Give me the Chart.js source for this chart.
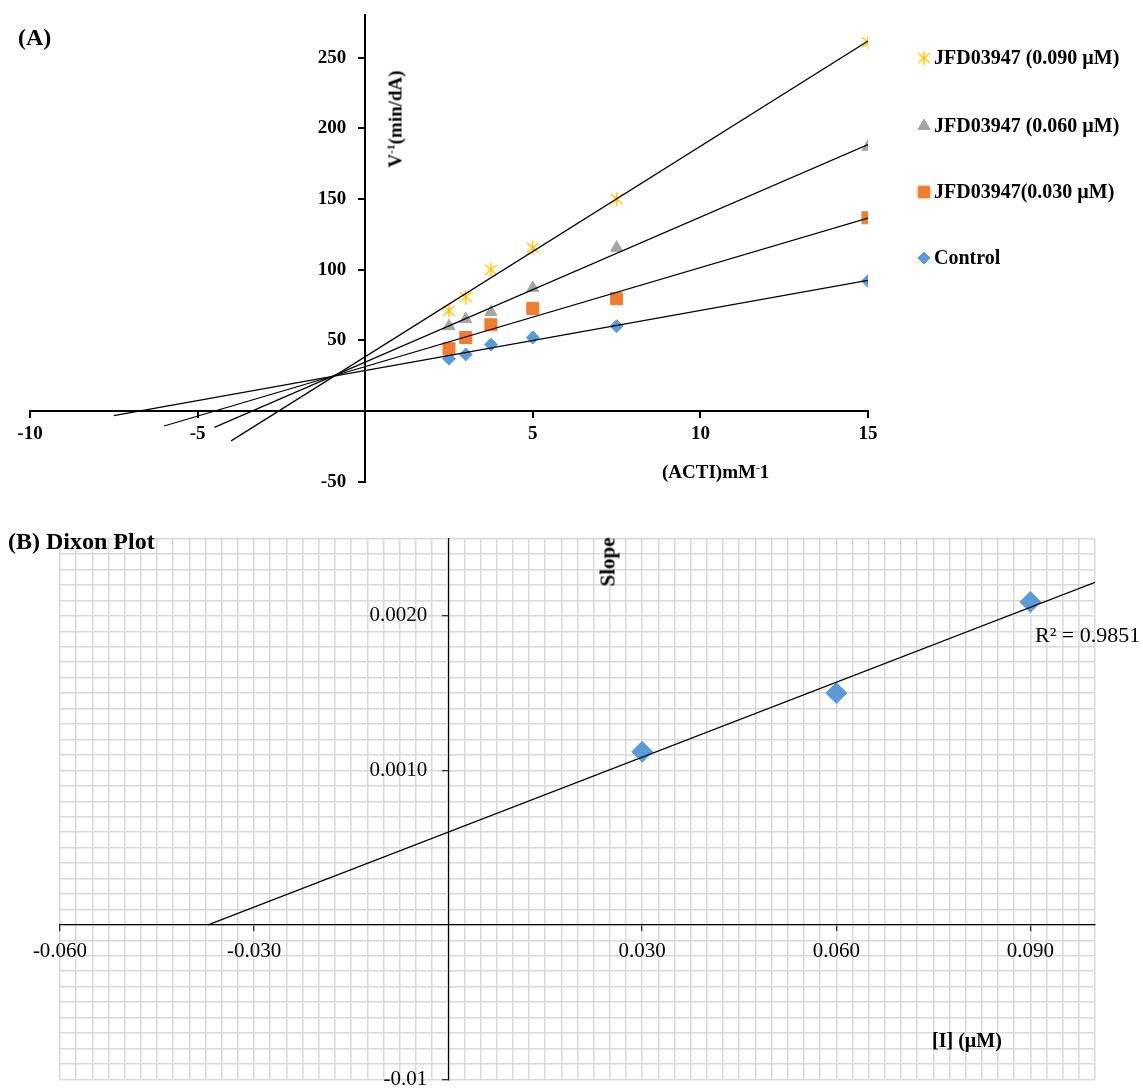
<!DOCTYPE html>
<html>
<head>
<meta charset="utf-8">
<script src="https://cdn.jsdelivr.net/npm/chart.js"></script>
<style>
  html, body { margin: 0; padding: 0; background: #fff; }
  body { width: 1143px; height: 1088px; position: relative; overflow: hidden;
         font-family: "Liberation Serif", "Times New Roman", serif; color: #000; }
  canvas { position: absolute; left: 0; }
  #lineweaver { top: 1px; }
  #dixon { top: 523px; }
  .lbl { position: absolute; white-space: nowrap; line-height: 1; }
  .b { font-weight: bold; }
  .mid { transform: translateY(-50%); }
  .ctr { transform: translate(-50%, -50%); }
  .rot { transform: translate(-50%, -50%) rotate(-90deg); }
  sup { font-size: 60%; vertical-align: 0.6em; line-height: 0; }
</style>
</head>
<body>
<canvas id="lineweaver" width="1143" height="495"></canvas>
<canvas id="dixon" width="1143" height="572"></canvas>

<div class="lbl b mid" style="left:18px; top:37px; font-size:24px;">(A)</div>
<div class="lbl b rot" style="left:395px; top:119px; font-size:19px;">V<sup>-1</sup>(min/dA)</div>
<div class="lbl b mid" style="left:662px; top:471px; font-size:19px;">(ACTI)mM<sup>-</sup>1</div>

<div class="lbl b mid" style="left:8px; top:541px; font-size:24px;">(B) Dixon Plot</div>
<div class="lbl b rot" style="left:608px; top:562px; font-size:21px;">Slope</div>
<div class="lbl b ctr" style="left:967px; top:1040px; font-size:20px;">[I] (µM)</div>
<div class="lbl mid" id="r2" style="left:1035px; top:635px; font-size:22px;"></div>

<script>
const FONT = '"Liberation Serif", "Times New Roman", serif';

// ---- Panel A: Lineweaver-Burk, 1/[S] vs 1/V ----
const substrateInv = [2.5, 3, 3.75, 5, 7.5, 15];
const seriesNames = ['JFD03947 (0.090 µM)', 'JFD03947 (0.060 µM)', 'JFD03947(0.030 µM)', 'Control'];
const inhib090 = [71, 80.6, 100, 115.5, 150, 261];
const inhib060 = [60, 65, 70, 87, 115.5, 187];
const inhib030 = [44, 52, 61, 72.6, 79.4, 136.7];
const control = [37, 40, 47, 52, 60, 92];
// how far back each trendline is forecast
const trendStartA = [-4.0, -4.5, -6.0, -7.5];

// ---- Panel B: Dixon plot ----
const inhibitorConc = [0.030, 0.060, 0.090];
const slopes = [0.00112, 0.00150, 0.00209];
const xTickValuesB = [-0.06, -0.03, 0.03, 0.06, 0.09];
const xTickLabelsB = ['-0.060', '-0.030', '0.030', '0.060', '0.090'];
const yTickValuesB = [-0.001, 0.001, 0.002];
const yTickLabelsB = ['-0.01', '0.0010', '0.0020'];
const r2Label = 'R² = 0.9851';

document.getElementById('r2').textContent = r2Label;

// spreadsheet style "star" marker: an x with a vertical bar
function excelStar(color) {
  const c = document.createElement('canvas');
  c.width = 15; c.height = 15;
  const g = c.getContext('2d');
  g.strokeStyle = color;
  g.lineWidth = 1.5;
  g.beginPath();
  g.moveTo(1.5, 2.5); g.lineTo(13.5, 12.5);
  g.moveTo(13.5, 2.5); g.lineTo(1.5, 12.5);
  g.moveTo(7.5, 0.5); g.lineTo(7.5, 14.5);
  g.stroke();
  return c;
}

const seriesA = [inhib090, inhib060, inhib030, control];
const styleA = [
  { color: '#FFC000', pointStyle: excelStar('#FFC000'), radius: 7, legendRadius: 7 },
  { color: '#A5A5A5', pointStyle: 'triangle', radius: 7, legendRadius: 7 },
  { color: '#ED7D31', pointStyle: 'rect', radius: 8.5, legendRadius: 8.3 },
  { color: '#5B9BD5', pointStyle: 'rectRot', radius: 6.5, legendRadius: 6 }
];

// least squares line, like the spreadsheet trendline
function linFit(xs, ys) {
  const n = xs.length;
  const mx = xs.reduce((a, b) => a + b, 0) / n;
  const my = ys.reduce((a, b) => a + b, 0) / n;
  let sxy = 0, sxx = 0;
  for (let i = 0; i < n; i++) {
    sxy += (xs[i] - mx) * (ys[i] - my);
    sxx += (xs[i] - mx) * (xs[i] - mx);
  }
  const slope = sxy / sxx;
  return { slope: slope, intercept: my - slope * mx };
}

function labelFor(v, vals, labels) {
  for (let i = 0; i < vals.length; i++) {
    if (Math.abs(v - vals[i]) < 1e-9) return labels[i];
  }
  return '';
}

// labels of an axis that crosses at a value sit flush on the line, so pad them
const GAP = '\u2002\u2002';

const datasetsA = [];
seriesA.forEach(function (ys, i) {
  const f = linFit(substrateInv, ys);
  const x0 = trendStartA[i];
  const x1 = substrateInv[substrateInv.length - 1];
  datasetsA.push({
    type: 'line',
    label: seriesNames[i] + ' trend',
    data: [{ x: x0, y: f.intercept + f.slope * x0 }, { x: x1, y: f.intercept + f.slope * x1 }],
    borderColor: '#000',
    borderWidth: 1.2,
    pointRadius: 0,
    order: 0
  });
  datasetsA.push({
    type: 'scatter',
    label: seriesNames[i],
    data: substrateInv.map(function (x, j) { return { x: x, y: ys[j] }; }),
    pointStyle: styleA[i].pointStyle,
    pointRadius: styleA[i].radius,
    backgroundColor: styleA[i].color,
    borderColor: styleA[i].color,
    borderWidth: 1,
    order: 1
  });
});

const legendRowsY = [58, 126, 192, 258];
const sideLegend = {
  id: 'sideLegend',
  afterDraw(chart) {
    const ctx = chart.ctx;
    const dy = chart.canvas.offsetTop;
    ctx.save();
    seriesNames.forEach(function (name, i) {
      const s = styleA[i];
      const y = legendRowsY[i] - dy;
      ctx.fillStyle = s.color;
      ctx.strokeStyle = s.color;
      ctx.lineWidth = 1;
      Chart.helpers.drawPoint(ctx, { pointStyle: s.pointStyle, radius: s.legendRadius, borderWidth: 1, rotation: 0 }, 924, y);
      ctx.fillStyle = '#000';
      ctx.font = 'bold 20px ' + FONT;
      ctx.textBaseline = 'middle';
      ctx.textAlign = 'left';
      ctx.fillText(name, 934, y + 1);
    });
    ctx.restore();
  }
};

const boldTick = { family: FONT, size: 19, weight: 'bold' };

new Chart(document.getElementById('lineweaver'), {
  data: { datasets: datasetsA },
  plugins: [sideLegend],
  options: {
    responsive: false,
    animation: false,
    layout: { padding: { left: 30, right: 275, top: 0, bottom: 0 } },
    plugins: { legend: { display: false }, tooltip: { enabled: false } },
    scales: {
      x: {
        type: 'linear',
        position: { y: 0 },
        min: -10,
        max: 15,
        ticks: {
          stepSize: 5, includeBounds: false, maxRotation: 0, padding: 6,
          color: '#000', font: boldTick,
          callback: function (v) { return v === 0 ? '' : v; }
        },
        grid: { drawOnChartArea: false, drawTicks: true, tickLength: 6, color: '#000', lineWidth: 2 },
        border: { display: true, color: '#000', width: 2 }
      },
      y: {
        type: 'linear',
        position: { x: 0 },
        min: -50,
        max: 280,
        ticks: {
          stepSize: 50, includeBounds: false,
          color: '#000', font: boldTick,
          callback: function (v) { return v === 0 ? '' : v + GAP; }
        },
        grid: { drawOnChartArea: false, drawTicks: true, tickLength: 6, color: '#000', lineWidth: 2 },
        border: { display: true, color: '#000', width: 2 }
      }
    }
  }
});

// ---- Dixon chart ----
const fitB = linFit(inhibitorConc, slopes);
const xStartB = -fitB.intercept / fitB.slope;
const xEndB = 0.1;

const plainTick = { family: FONT, size: 21 };

new Chart(document.getElementById('dixon'), {
  data: {
    datasets: [
      {
        type: 'line',
        label: 'Linear trend',
        data: [{ x: xStartB, y: 0 }, { x: xEndB, y: fitB.intercept + fitB.slope * xEndB }],
        borderColor: '#000',
        borderWidth: 1.2,
        pointRadius: 0,
        order: 0
      },
      {
        type: 'scatter',
        label: 'Slope',
        data: inhibitorConc.map(function (x, i) { return { x: x, y: slopes[i] }; }),
        pointStyle: 'rectRot',
        pointRadius: 10.5,
        backgroundColor: '#5B9BD5',
        borderColor: '#5B9BD5',
        borderWidth: 1,
        order: 1
      }
    ]
  },
  options: {
    responsive: false,
    animation: false,
    layout: { padding: { left: 60, right: 48, top: 0, bottom: 0 } },
    plugins: { legend: { display: false }, tooltip: { enabled: false } },
    scales: {
      x: {
        type: 'linear',
        position: { y: 0 },
        min: -0.06,
        max: 0.1,
        ticks: {
          stepSize: 0.0025, autoSkip: false, maxRotation: 0, padding: 8,
          color: '#000', font: plainTick,
          callback: function (v) { return labelFor(v, xTickValuesB, xTickLabelsB); }
        },
        grid: {
          color: '#D9D9D9', lineWidth: 1.5, drawTicks: true, tickLength: 6, tickWidth: 1,
          tickColor: function (c) { return labelFor(c.tick.value, xTickValuesB, xTickLabelsB) ? '#000' : 'rgba(0,0,0,0)'; }
        },
        border: { display: true, color: '#000', width: 1.2 }
      },
      y: {
        type: 'linear',
        position: { x: 0 },
        min: -0.001,
        max: 0.0025,
        ticks: {
          stepSize: 0.0001, autoSkip: false,
          color: '#000', font: plainTick,
          callback: function (v) {
            const t = labelFor(v, yTickValuesB, yTickLabelsB);
            return t ? t + GAP : '';
          }
        },
        grid: {
          color: '#D9D9D9', lineWidth: 1.5, drawTicks: true, tickLength: 6, tickWidth: 1,
          tickColor: function (c) { return labelFor(c.tick.value, yTickValuesB, yTickLabelsB) ? '#000' : 'rgba(0,0,0,0)'; }
        },
        border: { display: true, color: '#000', width: 1.2 }
      }
    }
  }
});
</script>
</body>
</html>
